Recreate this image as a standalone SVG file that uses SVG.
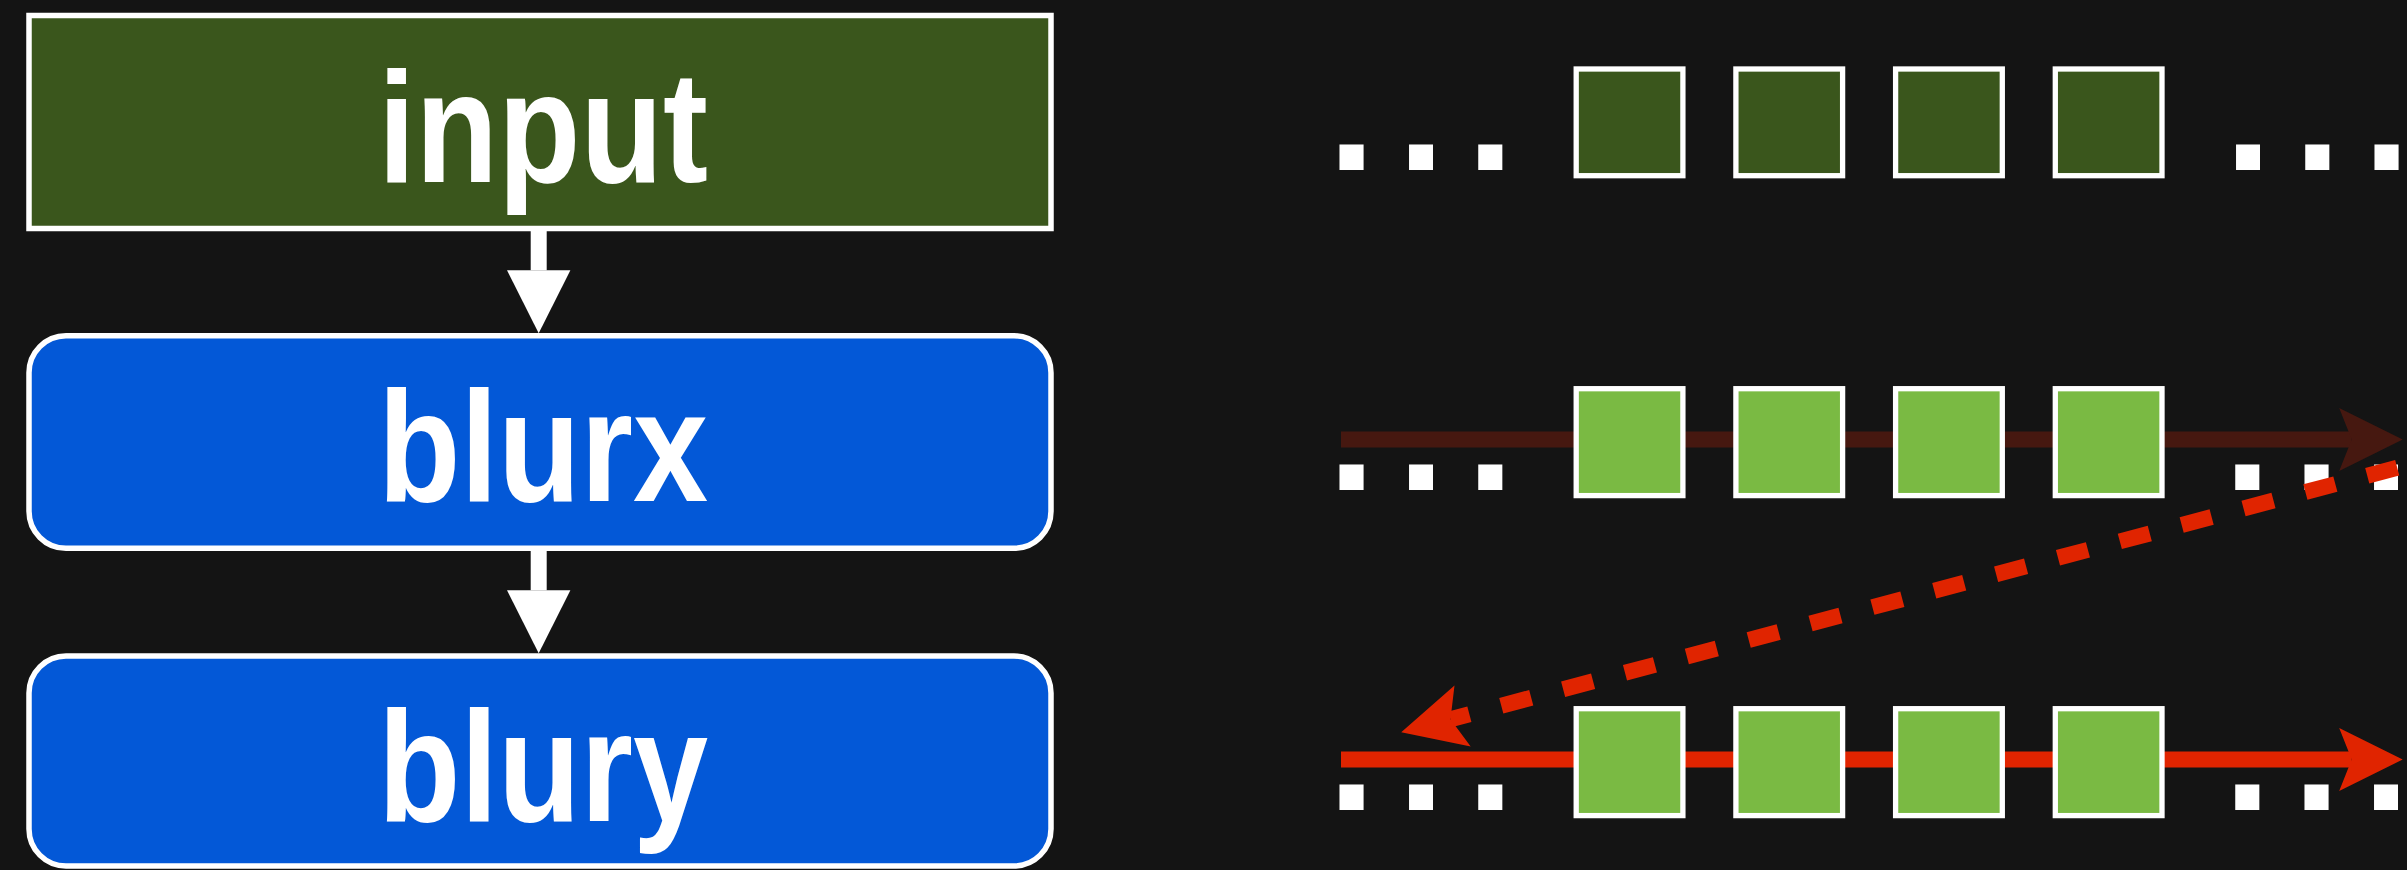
<svg xmlns="http://www.w3.org/2000/svg" width="2407" height="870" viewBox="0 0 2407 870">
  <style>
    .label { font-family: "Liberation Sans", Arial, sans-serif; font-weight: bold; font-size: 158px; fill: #ffffff; text-anchor: middle; }
    .dots { font-family: "Liberation Sans", Arial, sans-serif; font-weight: bold; font-size: 170px; fill: #ffffff; }
    .boxstroke { stroke: #ffffff; stroke-width: 5.5; }
    .cell { stroke: #ffffff; stroke-width: 5.3; }
    .cellDark { fill: #3a561c; }
    .cellLight { fill: #7aba43; }
    .flow { fill: none; stroke: #ffffff; stroke-width: 16; }
  </style>
  <defs>
    <marker id="headWhite" viewBox="0 -32 64 64" markerUnits="userSpaceOnUse" markerWidth="64" markerHeight="64" refX="0" refY="0" orient="auto">
      <path d="M0,-31.7 L63,0 L0,31.7 Z" fill="#ffffff"/>
    </marker>
    <marker id="headDark" viewBox="-13 -32 65 64" markerUnits="userSpaceOnUse" markerWidth="65" markerHeight="64" refX="0" refY="0" orient="auto">
      <path d="M-12.5,-31.5 L51,0 L-12.5,31.5 L0,0 Z" fill="#461810"/>
    </marker>
    <marker id="headRed" viewBox="-13 -32 65 64" markerUnits="userSpaceOnUse" markerWidth="65" markerHeight="64" refX="0" refY="0" orient="auto">
      <path d="M-12.5,-31.5 L51,0 L-12.5,31.5 L0,0 Z" fill="#e02400"/>
    </marker>
  </defs>

  <rect width="2407" height="870" fill="#141414"/>

  <!-- Pipeline nodes -->
  <g id="node-input">
    <rect class="boxstroke" x="29" y="15.5" width="1022" height="213" fill="#3a561c"/>
    <text class="label" x="543" y="181.7" textLength="330" lengthAdjust="spacingAndGlyphs">input</text>
  </g>
  <g id="node-blurx">
    <rect class="boxstroke" x="29" y="335.8" width="1022" height="212.5" rx="37" ry="37" fill="#0358d7"/>
    <text class="label" x="543" y="500.7" textLength="330" lengthAdjust="spacingAndGlyphs">blurx</text>
  </g>
  <g id="node-blury">
    <rect class="boxstroke" x="29" y="656" width="1022" height="210" rx="37" ry="37" fill="#0358d7"/>
    <text class="label" x="543" y="820.7" textLength="330" lengthAdjust="spacingAndGlyphs">blury</text>
  </g>

  <!-- Pipeline connectors -->
  <g id="connectors">
    <path class="flow" d="M538.7,231 L538.7,270.3" marker-end="url(#headWhite)"/>
    <path class="flow" d="M538.7,551 L538.7,590.3" marker-end="url(#headWhite)"/>
  </g>

  <!-- Row 1: input samples -->
  <g id="row-input">
    <text class="dots" x="1328 1397.4 1466.8" y="170.3">...</text>
    <text class="dots" x="2224.5 2293.8 2363" y="170.3">...</text>
    <rect class="cell cellDark" x="1576.2" y="69" width="106.7" height="106.7"/>
    <rect class="cell cellDark" x="1735.9" y="69" width="106.7" height="106.7"/>
    <rect class="cell cellDark" x="1895.6" y="69" width="106.7" height="106.7"/>
    <rect class="cell cellDark" x="2055.3" y="69" width="106.7" height="106.7"/>
  </g>

  <!-- Row 2: blurx samples -->
  <g id="row-blurx">
    <path d="M1341,439.5 L2351.7,439.5" fill="none" stroke="#461810" stroke-width="16" marker-end="url(#headDark)"/>
    <text class="dots" x="1328 1397.4 1466.8" y="490.3">...</text>
    <text class="dots" x="2223.8 2293.1 2362.5" y="490.3">...</text>
    <rect class="cell cellLight" x="1576.2" y="388.7" width="106.7" height="106.9"/>
    <rect class="cell cellLight" x="1735.9" y="388.7" width="106.7" height="106.9"/>
    <rect class="cell cellLight" x="1895.6" y="388.7" width="106.7" height="106.9"/>
    <rect class="cell cellLight" x="2055.3" y="388.7" width="106.7" height="106.9"/>
  </g>

  <!-- Row 3: blury samples -->
  <g id="row-blury">
    <path d="M1341,759.5 L2351.7,759.5" fill="none" stroke="#e02400" stroke-width="16" marker-end="url(#headRed)"/>
    <text class="dots" x="1328 1397.4 1466.8" y="810.3">...</text>
    <text class="dots" x="2223.8 2293.1 2362.5" y="810.3">...</text>
    <rect class="cell cellLight" x="1576.2" y="708.7" width="106.7" height="106.9"/>
    <rect class="cell cellLight" x="1735.9" y="708.7" width="106.7" height="106.9"/>
    <rect class="cell cellLight" x="1895.6" y="708.7" width="106.7" height="106.9"/>
    <rect class="cell cellLight" x="2055.3" y="708.7" width="106.7" height="106.9"/>
  </g>

  <!-- Dashed return arrow -->
  <g id="return-arrow">
    <path d="M2397.2,467.7 L1450.5,719.2" fill="none" stroke="#e02400" stroke-width="16" stroke-dasharray="31 33" marker-end="url(#headRed)"/>
  </g>
</svg>
